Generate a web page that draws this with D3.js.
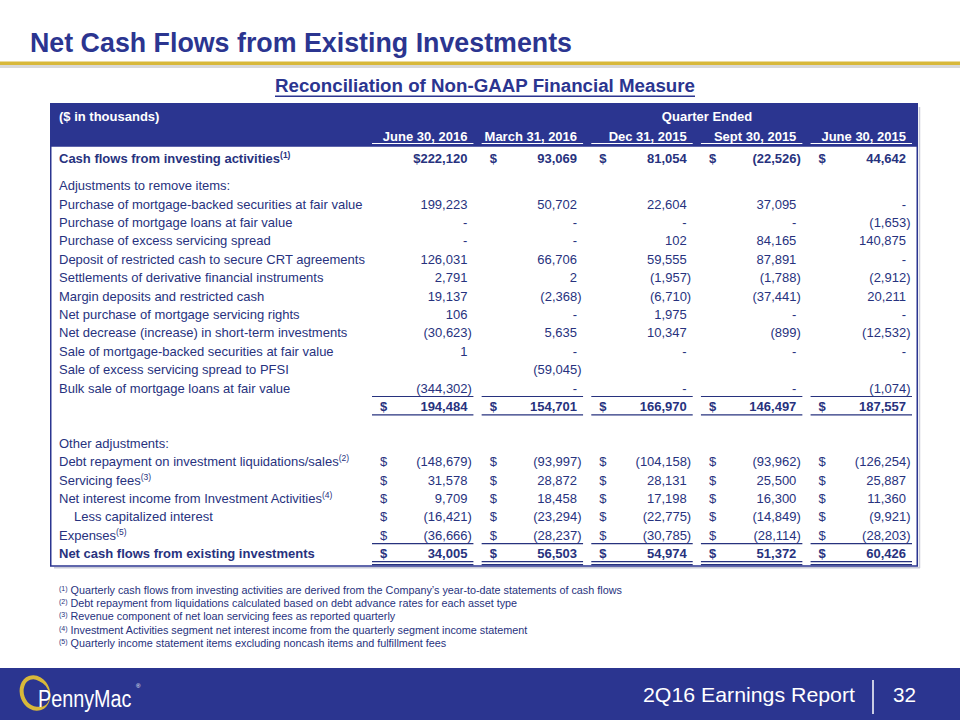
<!DOCTYPE html>
<html><head><meta charset="utf-8">
<script src="https://cdn.jsdelivr.net/npm/d3@7"></script>
<style>
html,body{margin:0;padding:0;background:#fff;}
svg{display:block;font-family:"Liberation Sans",Arial,sans-serif;}
</style></head>
<body>
<svg id="chart" width="960" height="720"></svg>
<script>
const quarters = ["June 30, 2016", "March 31, 2016", "Dec 31, 2015", "Sept 30, 2015", "June 30, 2015"];
const cashFlowsInvesting = [222120, 93069, 81054, -22526, 44642];
const adjustmentLabels = [
  "Purchase of mortgage-backed securities at fair value",
  "Purchase of mortgage loans at fair value",
  "Purchase of excess servicing spread",
  "Deposit of restricted cash to secure CRT agreements",
  "Settlements of derivative financial instruments",
  "Margin deposits and restricted cash",
  "Net purchase of mortgage servicing rights",
  "Net decrease (increase) in short-term investments",
  "Sale of mortgage-backed securities at fair value",
  "Sale of excess servicing spread to PFSI",
  "Bulk sale of mortgage loans at fair value"
];
const adjustmentValues = [
  [199223, 50702, 22604, 37095, 0],
  [0, 0, 0, 0, -1653],
  [0, 0, 102, 84165, 140875],
  [126031, 66706, 59555, 87891, 0],
  [2791, 2, -1957, -1788, -2912],
  [19137, -2368, -6710, -37441, 20211],
  [106, 0, 1975, 0, 0],
  [-30623, 5635, 10347, -899, -12532],
  [1, 0, 0, 0, 0],
  [null, -59045, null, null, null],
  [-344302, 0, 0, 0, -1074]
];
const adjustedTotal = [194484, 154701, 166970, 146497, 187557];
const otherLabels = ["Debt repayment on investment liquidations/sales", "Servicing fees", "Net interest income from Investment Activities", "Less capitalized interest", "Expenses"];
const otherNotes = ["(2)", "(3)", "(4)", "", "(5)"];
const otherValues = [
  [-148679, -93997, -104158, -93962, -126254],
  [31578, 28872, 28131, 25500, 25887],
  [9709, 18458, 17198, 16300, 11360],
  [-16421, -23294, -22775, -14849, -9921],
  [-36666, -28237, -30785, -28114, -28203]
];
const netCashFlows = [34005, 56503, 54974, 51372, 60426];
const footnoteMarks = ["(1)", "(2)", "(3)", "(4)", "(5)"];
const footnotes = [
  "Quarterly cash flows from investing activities are derived from the Company\u2019s  year-to-date statements of cash flows",
  "Debt repayment from liquidations  calculated based on debt advance rates for each asset type",
  "Revenue component of net loan servicing fees as reported quarterly",
  "Investment Activities segment net interest income  from the quarterly segment income  statement",
  "Quarterly income statement items  excluding noncash items and  fulfillment  fees"
];

const NAVY = "#2b3590", TEXT = "#27327e", GOLD = "#d8b83a";
const svg = d3.select("#chart");
const narrow = '"Liberation Sans Narrow","Arial Narrow","Liberation Sans",Arial,sans-serif';

// Title
svg.append("text").attr("x", 30).attr("y", 52).attr("font-family", narrow).attr("font-weight", "bold")
  .attr("font-size", 28).attr("fill", NAVY).attr("textLength", 542).attr("lengthAdjust", "spacingAndGlyphs")
  .text("Net Cash Flows from Existing Investments");
svg.append("rect").attr("x", 0).attr("y", 65).attr("width", 960).attr("height", 3).attr("fill", "#d9d9d9");
svg.append("rect").attr("x", 0).attr("y", 61.5).attr("width", 960).attr("height", 3.5).attr("fill", GOLD);

// Subtitle
svg.append("text").attr("x", 275).attr("y", 92).attr("font-family", narrow).attr("font-weight", "bold")
  .attr("font-size", 18).attr("fill", NAVY).attr("textLength", 420).attr("lengthAdjust", "spacingAndGlyphs")
  .text("Reconciliation of Non-GAAP Financial Measure");
svg.append("rect").attr("x", 275).attr("y", 95.5).attr("width", 420).attr("height", 1.5).attr("fill", NAVY);

// Table frame
const tLeft = 50, tRight = 918, hTop = 103, hBot = 146, tBot = 566;
svg.append("rect").attr("x", tLeft).attr("y", hTop).attr("width", tRight - tLeft).attr("height", hBot - hTop).attr("fill", NAVY);
svg.append("rect").attr("x", tLeft + 0.75).attr("y", hBot).attr("width", tRight - tLeft - 1.5).attr("height", tBot - hBot)
  .attr("fill", "#fff").attr("stroke", NAVY).attr("stroke-width", 1.5);
svg.append("line").attr("x1", tRight + 1.5).attr("x2", tRight + 1.5).attr("y1", hTop + 4).attr("y2", tBot + 2).attr("stroke", "#c9cbd8").attr("stroke-width", 1.5);
svg.append("line").attr("x1", tLeft + 4).attr("x2", tRight + 2).attr("y1", tBot + 1.8).attr("y2", tBot + 1.8).attr("stroke", "#c9cbd8").attr("stroke-width", 1.5);

// Scales
const x = d3.scaleBand().domain(quarters).range([372, 912]).paddingInner(0.075).paddingOuter(0);
const y = d3.scaleLinear().domain([0, 1]).range([162.5, 180.9]); // text baseline per row slot
const numRight = q => x(q) + x.bandwidth() - 6;
const fmt = d3.format(",");
const fmtVal = v => v === null ? "" : v === 0 ? "-" : v < 0 ? "(" + fmt(-v) + ")" : fmt(v);

// Header text
const hdr = svg.append("g").attr("fill", "#fff").attr("font-weight", "bold").attr("font-size", 13);
hdr.append("text").attr("x", 59).attr("y", 121).text("($ in thousands)");
hdr.append("text").attr("x", (x(quarters[0]) + 912) / 2 + 65).attr("y", 121).attr("text-anchor", "middle").text("Quarter Ended");
quarters.forEach(q => {
  hdr.append("text").attr("x", numRight(q)).attr("y", 141).attr("text-anchor", "end").text(q);
  svg.append("line").attr("x1", x(q)).attr("x2", x(q) + x.bandwidth()).attr("y1", 143.5).attr("y2", 143.5)
    .attr("stroke", "#fff").attr("stroke-width", 1.2);
});

const body = svg.append("g").attr("fill", TEXT).attr("font-size", 13);

function label(slot, txt, opts = {}) {
  const t = body.append("text").attr("x", opts.indent ? 74 : 59).attr("y", y(slot))
    .attr("font-weight", opts.bold ? "bold" : null).text(txt);
  if (opts.note) t.append("tspan").attr("font-size", 8.5).attr("dy", -5).text(opts.note);
}
function values(slot, vals, opts = {}) {
  vals.forEach((v, i) => {
    const q = quarters[i];
    if (v === null) return;
    const neg = v < 0;
    const t = body.append("text").attr("x", numRight(q) + (neg ? 4.5 : 0)).attr("y", y(slot)).attr("text-anchor", "end")
      .attr("font-weight", opts.bold ? "bold" : null);
    if (opts.dollarAttached && i === 0) { t.text("$" + fmtVal(v)); return; }
    t.text(fmtVal(v));
    if (opts.dollar) {
      body.append("text").attr("x", x(q) + 8).attr("y", y(slot)).attr("font-weight", opts.bold ? "bold" : null).text("$");
    }
  });
}
function rule(slot, offset, dbl) {
  quarters.forEach(q => {
    const yy = y(slot) + offset;
    svg.append("line").attr("x1", x(q)).attr("x2", x(q) + x.bandwidth()).attr("y1", yy).attr("y2", yy).attr("stroke", TEXT).attr("stroke-width", 1.2);
    if (dbl) svg.append("line").attr("x1", x(q)).attr("x2", x(q) + x.bandwidth()).attr("y1", yy + 3).attr("y2", yy + 3).attr("stroke", TEXT).attr("stroke-width", 1.2);
  });
}

// Cash flows row
label(0, "Cash flows from investing activities", { bold: true, note: "(1)" });
values(0, cashFlowsInvesting, { bold: true, dollar: true, dollarAttached: true });
// Adjustments
label(1.5, "Adjustments to remove items:");
adjustmentLabels.forEach((l, i) => { label(2.5 + i, l); values(2.5 + i, adjustmentValues[i]); });
rule(12.5, 4, false);
values(13.5, adjustedTotal, { bold: true, dollar: true });
rule(13.5, 4, false);
// Other adjustments
label(15.5, "Other adjustments:");
otherLabels.forEach((l, i) => {
  label(16.5 + i, l, { note: otherNotes[i] || null, indent: i === 3 });
  values(16.5 + i, otherValues[i], { dollar: true });
});
rule(20.5, 4, false);
label(21.5, "Net cash flows from existing investments", { bold: true });
values(21.5, netCashFlows, { bold: true, dollar: true });
rule(21.5, 3.5, true);

// Footnotes
const fn = svg.append("g").attr("fill", TEXT).attr("font-family", narrow).attr("font-size", 10.8);
footnotes.forEach((f, i) => {
  const t = fn.append("text").attr("x", 59).attr("y", 594 + i * 13.2);
  t.append("tspan").attr("font-size", 7).attr("dy", -3).text(footnoteMarks[i]);
  t.append("tspan").attr("dy", 3).text(" " + f);
});

// Footer band
svg.append("rect").attr("x", 0).attr("y", 668).attr("width", 960).attr("height", 52).attr("fill", NAVY);
svg.append("text").attr("x", 643).attr("y", 702).attr("font-family", narrow).attr("font-size", 21).attr("fill", "#fff")
  .attr("textLength", 212).attr("lengthAdjust", "spacingAndGlyphs").text("2Q16 Earnings Report");
svg.append("line").attr("x1", 873).attr("x2", 873).attr("y1", 680).attr("y2", 714).attr("stroke", "#fff").attr("stroke-width", 1.5);
svg.append("text").attr("x", 893).attr("y", 702).attr("font-family", narrow).attr("font-size", 21).attr("fill", "#fff")
  .attr("textLength", 23).attr("lengthAdjust", "spacingAndGlyphs").text("32");

// Logo
const logo = svg.append("g");
logo.append("ellipse").attr("cx", 35).attr("cy", 693).attr("rx", 13).attr("ry", 16)
  .attr("fill", "none").attr("stroke", GOLD).attr("stroke-width", 4).attr("transform", "rotate(-20,35,693)");
logo.append("ellipse").attr("cx", 39).attr("cy", 694).attr("rx", 10).attr("ry", 13)
  .attr("fill", NAVY).attr("transform", "rotate(-20,39,694)");
logo.append("g").attr("transform", "translate(38,707) scale(0.86,1)")
  .append("text").attr("x", 0).attr("y", 0).attr("font-size", 23).attr("fill", "#fff").text("PennyMac");
logo.append("text").attr("x", 136).attr("y", 688).attr("font-size", 6).attr("fill", "#fff").text("®");
</script>
</body></html>
